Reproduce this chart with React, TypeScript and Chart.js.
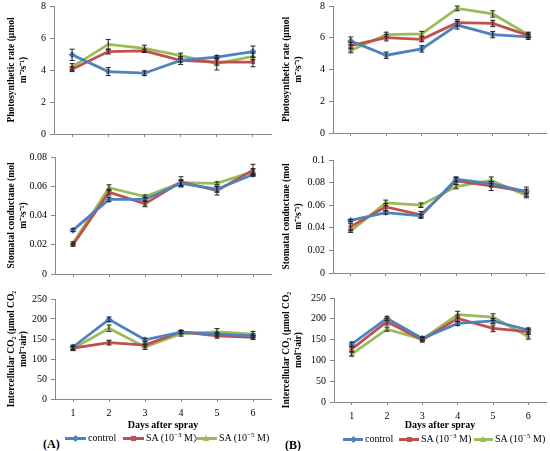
import React, { useEffect, useRef } from "react";
import { Chart, registerables } from "chart.js";

Chart.register(...registerables);

// ---------- data ----------
const days = ["1", "2", "3", "4", "5", "6"];
const seriesNames = ["control", "SA (10⁻³ M)", "SA (10⁻⁵ M)"];
const seriesColors = ["#4F81BD", "#C0504D", "#9BBB59"];
const seriesMarkers = ["rectRot", "rect", "triangle"];

// Photosynthetic rate (A)
const photoA_control = [4.95, 3.9, 3.8, 4.6, 4.8, 5.15];
const photoA_sa3 = [4.05, 5.15, 5.2, 4.6, 4.5, 4.5];
const photoA_sa5 = [4.2, 5.6, 5.35, 4.9, 4.4, 4.85];
const photoA_control_err = [0.35, 0.25, 0.15, 0.1, 0.1, 0.35];
const photoA_sa3_err = [0.15, 0.15, 0.1, 0.25, 0.2, 0.3];
const photoA_sa5_err = [0.2, 0.3, 0.2, 0.15, 0.4, 0.2];

// Photosynthetic rate (B)
const photoB_control = [5.8, 4.9, 5.3, 6.8, 6.2, 6.05];
const photoB_sa3 = [5.5, 6.0, 5.9, 6.95, 6.9, 6.15];
const photoB_sa5 = [5.2, 6.2, 6.25, 7.85, 7.5, 6.2];
const photoB_control_err = [0.25, 0.2, 0.2, 0.25, 0.2, 0.15];
const photoB_sa3_err = [0.2, 0.2, 0.15, 0.2, 0.2, 0.15];
const photoB_sa5_err = [0.15, 0.15, 0.15, 0.15, 0.2, 0.15];

// Stomatal conductance (A)
const stomA_control = [0.03, 0.051, 0.051, 0.062, 0.058, 0.068];
const stomA_sa3 = [0.02, 0.056, 0.048, 0.063, 0.057, 0.071];
const stomA_sa5 = [0.021, 0.059, 0.053, 0.0625, 0.062, 0.07];
const stomA_control_err = [0.001, 0.0015, 0.0015, 0.002, 0.002, 0.001];
const stomA_sa3_err = [0.001, 0.002, 0.002, 0.0035, 0.003, 0.004];
const stomA_sa5_err = [0.001, 0.002, 0.001, 0.002, 0.001, 0.002];

// Stomatal conductance (B)
const stomB_control = [0.0465, 0.0535, 0.0505, 0.083, 0.079, 0.072];
const stomB_sa3 = [0.041, 0.0585, 0.0515, 0.0815, 0.077, 0.072];
const stomB_sa5 = [0.037, 0.062, 0.06, 0.0765, 0.082, 0.0685];
const stomB_control_err = [0.001, 0.0015, 0.0015, 0.002, 0.002, 0.002];
const stomB_sa3_err = [0.003, 0.003, 0.003, 0.003, 0.004, 0.004];
const stomB_sa5_err = [0.001, 0.0025, 0.002, 0.002, 0.003, 0.002];

// Intercellular CO2 (A)
const co2A_control = [130, 199, 148, 167, 162, 158];
const co2A_sa3 = [127, 141, 135, 168, 158, 154];
const co2A_sa5 = [126, 177, 130, 163, 168, 162];
const co2A_control_err = [5, 6, 4, 4, 5, 5];
const co2A_sa3_err = [5, 6, 5, 4, 6, 5];
const co2A_sa5_err = [5, 8, 6, 6, 8, 7];

// Intercellular CO2 (B)
const co2B_control = [139, 201, 153, 189, 195, 173];
const co2B_sa3 = [127, 193, 149, 201, 177, 169];
const co2B_sa5 = [115, 175, 151, 210, 204, 157];
const co2B_control_err = [5, 5, 4, 5, 6, 5];
const co2B_sa3_err = [6, 8, 5, 8, 8, 6];
const co2B_sa5_err = [5, 5, 4, 8, 8, 6];

const titlePhoto = ["Photosynthetic rate (µmol", "m⁻²s⁻¹)"];
const titleStom = ["Stomatal conductane (mol", "m⁻²s⁻¹)"];
const titleCO2 = ["Intercellular CO₂ (µmol CO₂", "mol⁻¹air)"];
const xTitle = "Days after spray";

// ---------- plugin ----------
const errorBarPlugin = {
  id: "errorBars",
  afterDatasetsDraw(chart: any) {
    const ctx = chart.ctx;
    const ys = chart.scales.y;
    chart.data.datasets.forEach((ds: any, i: number) => {
      const meta = chart.getDatasetMeta(i);
      const errs: number[] = ds.errors || [];
      meta.data.forEach((pt: any, j: number) => {
        const v = ds.data[j];
        const e = errs[j] || 0;
        const yt = ys.getPixelForValue(v + e);
        const yb = ys.getPixelForValue(v - e);
        ctx.save();
        ctx.strokeStyle = "#222";
        ctx.lineWidth = 1;
        ctx.beginPath();
        ctx.moveTo(pt.x, yt);
        ctx.lineTo(pt.x, yb);
        ctx.moveTo(pt.x - 2.5, yt);
        ctx.lineTo(pt.x + 2.5, yt);
        ctx.moveTo(pt.x - 2.5, yb);
        ctx.lineTo(pt.x + 2.5, yb);
        ctx.stroke();
        ctx.restore();
      });
    });
  },
};

type PanelProps = {
  left: number;
  top: number;
  width: number;
  height: number;
  yW: number;
  padRight: number;
  padTop: number;
  xH: number;
  yMax: number;
  yStep: number;
  yTitle: string[];
  series: number[][];
  errors: number[][];
  showX: boolean;
};

const serif = "'Liberation Serif', 'Times New Roman', serif";

function Panel(p: PanelProps) {
  const ref = useRef<HTMLCanvasElement>(null);
  useEffect(() => {
    const canvas = ref.current!;
    const axisColor = "#888888";
    const chart = new Chart(canvas, {
      type: "line",
      data: {
        labels: days,
        datasets: p.series.map((s, i) => ({
          label: seriesNames[i],
          data: s,
          errors: p.errors[i],
          borderColor: seriesColors[i],
          backgroundColor: seriesColors[i],
          borderWidth: 2.75,
          pointStyle: seriesMarkers[i],
          pointRadius: i === 1 ? 3 : 3.5,
          pointBorderWidth: 0,
          tension: 0,
        })) as any,
      },
      options: {
        responsive: false,
        animation: false,
        devicePixelRatio: 1,
        layout: { padding: { left: 0, right: p.padRight, top: p.padTop, bottom: 0 } },
        plugins: { legend: { display: false }, tooltip: { enabled: false } },
        scales: {
          x: {
            type: "category",
            offset: true,
            grid: {
              display: true,
              drawOnChartArea: false,
              drawTicks: true,
              tickLength: 3,
              color: axisColor,
            },
            border: { display: true, color: axisColor, width: 1 },
            ticks: {
              display: p.showX,
              color: "#000",
              padding: 5,
              maxRotation: 0,
              font: { family: serif, size: 10 },
            },
            title: {
              display: p.showX,
              text: xTitle,
              color: "#000",
              padding: { top: 0, bottom: 1 },
              font: { family: serif, size: 10, weight: "bold" },
            },
            afterFit: (s: any) => {
              s.height = p.xH;
              s.paddingLeft = 0;
              s.paddingRight = 0;
            },
          },
          y: {
            min: 0,
            max: p.yMax,
            ticks: {
              stepSize: p.yStep,
              color: "#000",
              padding: 4,
              font: { family: serif, size: 10 },
              callback: (v: any) => String(parseFloat(Number(v).toFixed(4))),
            },
            grid: {
              display: true,
              drawOnChartArea: false,
              drawTicks: true,
              tickLength: 4,
              color: axisColor,
            },
            border: { display: true, color: axisColor, width: 1 },
            title: {
              display: true,
              text: p.yTitle,
              color: "#000",
              padding: { top: 5, bottom: 0 },
              font: {
                family: serif,
                size: 9.5,
                weight: "bold",
                lineHeight: 1.3,
              },
            },
            afterFit: (s: any) => {
              s.width = p.yW;
              s.paddingTop = 0;
              s.paddingBottom = 0;
            },
          },
        },
      } as any,
      plugins: [errorBarPlugin as any],
    });
    return () => chart.destroy();
  }, []);
  return (
    <canvas
      ref={ref}
      width={p.width}
      height={p.height}
      style={{ position: "absolute", left: p.left, top: p.top, width: p.width, height: p.height }}
    />
  );
}

function Marker({ kind, color }: { kind: number; color: string }) {
  if (kind === 0) {
    return (
      <div
        style={{
          position: "absolute",
          left: 7,
          top: -2,
          width: 5,
          height: 5,
          background: color,
          transform: "rotate(45deg)",
        }}
      />
    );
  }
  if (kind === 1) {
    return (
      <div style={{ position: "absolute", left: 7, top: -2, width: 5, height: 5, background: color }} />
    );
  }
  return (
    <div
      style={{
        position: "absolute",
        left: 6,
        top: -3,
        width: 0,
        height: 0,
        borderLeft: "3.5px solid transparent",
        borderRight: "3.5px solid transparent",
        borderBottom: `6px solid ${color}`,
      }}
    />
  );
}

function LegendItem({ x, y, idx, lineW }: { x: number; y: number; idx: number; lineW: number }) {
  const label =
    idx === 0 ? (
      <span>control</span>
    ) : (
      <span>
        SA (10
        <span style={{ fontSize: 7, position: "relative", top: -4 }}>{idx === 1 ? "−3" : "−5"}</span> M)
      </span>
    );
  return (
    <div style={{ position: "absolute", left: x, top: y - 7, height: 14, display: "flex", alignItems: "center" }}>
      <div style={{ position: "relative", width: lineW, height: 3, background: seriesColors[idx] }}>
        <div style={{ position: "absolute", left: lineW / 2 - 9.5, top: 1 }}>
          <Marker kind={idx} color={seriesColors[idx]} />
        </div>
      </div>
      <span style={{ marginLeft: 2, font: `10px ${serif}`, color: "#000", whiteSpace: "nowrap", lineHeight: "14px" }}>
        {label}
      </span>
    </div>
  );
}

export default function App() {
  return (
    <div
      style={{
        position: "absolute",
        left: 0,
        top: 0,
        width: 550,
        height: 451,
        background: "#fff",
        overflow: "hidden",
      }}
    >
      <Panel
        left={0} top={0} width={275} height={145}
        yW={54} padRight={-3} padTop={6} xH={11}
        yMax={8} yStep={2} yTitle={titlePhoto}
        series={[photoA_control, photoA_sa3, photoA_sa5]}
        errors={[photoA_control_err, photoA_sa3_err, photoA_sa5_err]}
        showX={false}
      />
      <Panel
        left={275} top={0} width={275} height={145}
        yW={58} padRight={-1} padTop={6} xH={12}
        yMax={8} yStep={2} yTitle={titlePhoto}
        series={[photoB_control, photoB_sa3, photoB_sa5]}
        errors={[photoB_control_err, photoB_sa3_err, photoB_sa5_err]}
        showX={false}
      />
      <Panel
        left={0} top={145} width={275} height={145}
        yW={55} padRight={1} padTop={12} xH={16}
        yMax={0.08} yStep={0.02} yTitle={titleStom}
        series={[stomA_control, stomA_sa3, stomA_sa5]}
        errors={[stomA_control_err, stomA_sa3_err, stomA_sa5_err]}
        showX={false}
      />
      <Panel
        left={275} top={145} width={275} height={145}
        yW={58} padRight={6} padTop={15} xH={17}
        yMax={0.1} yStep={0.02} yTitle={titleStom}
        series={[stomB_control, stomB_sa3, stomB_sa5]}
        errors={[stomB_control_err, stomB_sa3_err, stomB_sa5_err]}
        showX={false}
      />
      <Panel
        left={0} top={290} width={275} height={142}
        yW={55} padRight={1} padTop={9} xH={33}
        yMax={250} yStep={50} yTitle={titleCO2}
        series={[co2A_control, co2A_sa3, co2A_sa5]}
        errors={[co2A_control_err, co2A_sa3_err, co2A_sa5_err]}
        showX={true}
      />
      <Panel
        left={275} top={290} width={275} height={142}
        yW={59} padRight={3} padTop={8} xH={30}
        yMax={250} yStep={50} yTitle={titleCO2}
        series={[co2B_control, co2B_sa3, co2B_sa5]}
        errors={[co2B_control_err, co2B_sa3_err, co2B_sa5_err]}
        showX={true}
      />

      <div style={{ position: "absolute", left: 43, top: 437, font: `bold 12px ${serif}`, color: "#000" }}>(A)</div>
      <LegendItem x={65} y={438} idx={0} lineW={21} />
      <LegendItem x={123} y={438} idx={1} lineW={21} />
      <LegendItem x={195} y={438} idx={2} lineW={22} />

      <div style={{ position: "absolute", left: 285, top: 438, font: `bold 12px ${serif}`, color: "#000" }}>(B)</div>
      <LegendItem x={343} y={439} idx={0} lineW={20} />
      <LegendItem x={399} y={439} idx={1} lineW={20} />
      <LegendItem x={474} y={439} idx={2} lineW={19} />
    </div>
  );
}
